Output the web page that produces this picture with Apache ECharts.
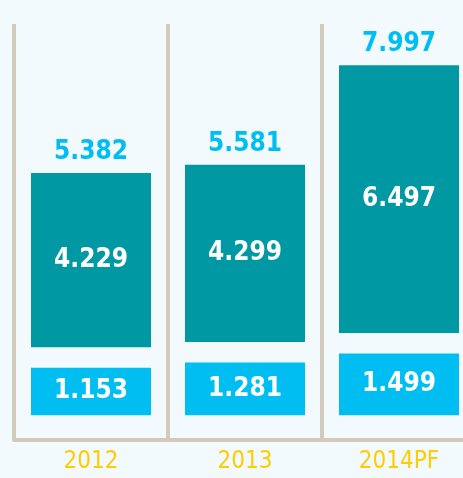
<!DOCTYPE html>
<html>
<head>
<meta charset="utf-8">
<script src="https://cdn.jsdelivr.net/npm/echarts@6/dist/echarts.min.js"></script>
<style>
  html, body { margin: 0; padding: 0; background: #f3fafd; }
  #chart { width: 463px; height: 478px; }
</style>
</head>
<body>
<div id="chart"></div>
<script>
const categories = ["2012", "2013", "2014PF"];
const baseValues = [1.153, 1.281, 1.499];
const topValues = [4.229, 4.299, 6.497];
const totals = [5.382, 5.581, 7.997];

const colors = {
  bg: "#f3fafd",
  light: "#00bef2",
  teal: "#0098a3",
  rule: "#d3cbb9",
  year: "#fdcd00",
};

const GAP = 0.5; // visual gap between the two blocks
const font = "'Liberation Sans Narrow', 'DejaVu Sans Condensed', sans-serif";

const chart = echarts.init(document.getElementById("chart"));

const innerLabel = {
  show: true,
  position: "inside",
  color: "#ffffff",
  fontFamily: font,
  fontWeight: "bold",
  fontSize: 26,
  formatter: (p) => p.value.toFixed(3),
};

chart.setOption({
  backgroundColor: colors.bg,
  animation: false,
  grid: {
    left: 14,
    right: -13,
    top: 24,
    bottom: 38,
    containLabel: false,
    outerBoundsMode: "none",
  },
  xAxis: {
    type: "category",
    data: categories,
    axisLine: { onZero: false, lineStyle: { color: colors.rule, width: 4 } },
    axisTick: { show: false },
    splitLine: {
      show: true,
      interval: 0,
      lineStyle: { color: colors.rule, width: 4 },
    },
    axisLabel: {
      color: colors.year,
      fontFamily: font,
      fontSize: 24,
      margin: 10,
    },
  },
  yAxis: {
    type: "value",
    min: -0.6,
    max: 9.5,
    show: false,
    splitLine: { show: false },
  },
  series: [
    {
      name: "base",
      type: "bar",
      stack: "s",
      barWidth: 120,
      data: baseValues,
      itemStyle: { color: colors.light },
      label: innerLabel,
    },
    {
      name: "gap",
      type: "bar",
      stack: "s",
      data: categories.map(() => GAP),
      itemStyle: { color: "transparent" },
      silent: true,
    },
    {
      name: "top",
      type: "bar",
      stack: "s",
      data: topValues,
      itemStyle: { color: colors.teal },
      label: innerLabel,
    },
    {
      name: "total",
      type: "bar",
      stack: "s",
      data: categories.map(() => 0),
      itemStyle: { color: "transparent" },
      label: {
        show: true,
        position: "top",
        distance: 8,
        color: colors.light,
        fontFamily: font,
        fontWeight: "bold",
        fontSize: 26,
        formatter: (p) => totals[p.dataIndex].toFixed(3),
      },
    },
  ],
});
</script>
</body>
</html>
